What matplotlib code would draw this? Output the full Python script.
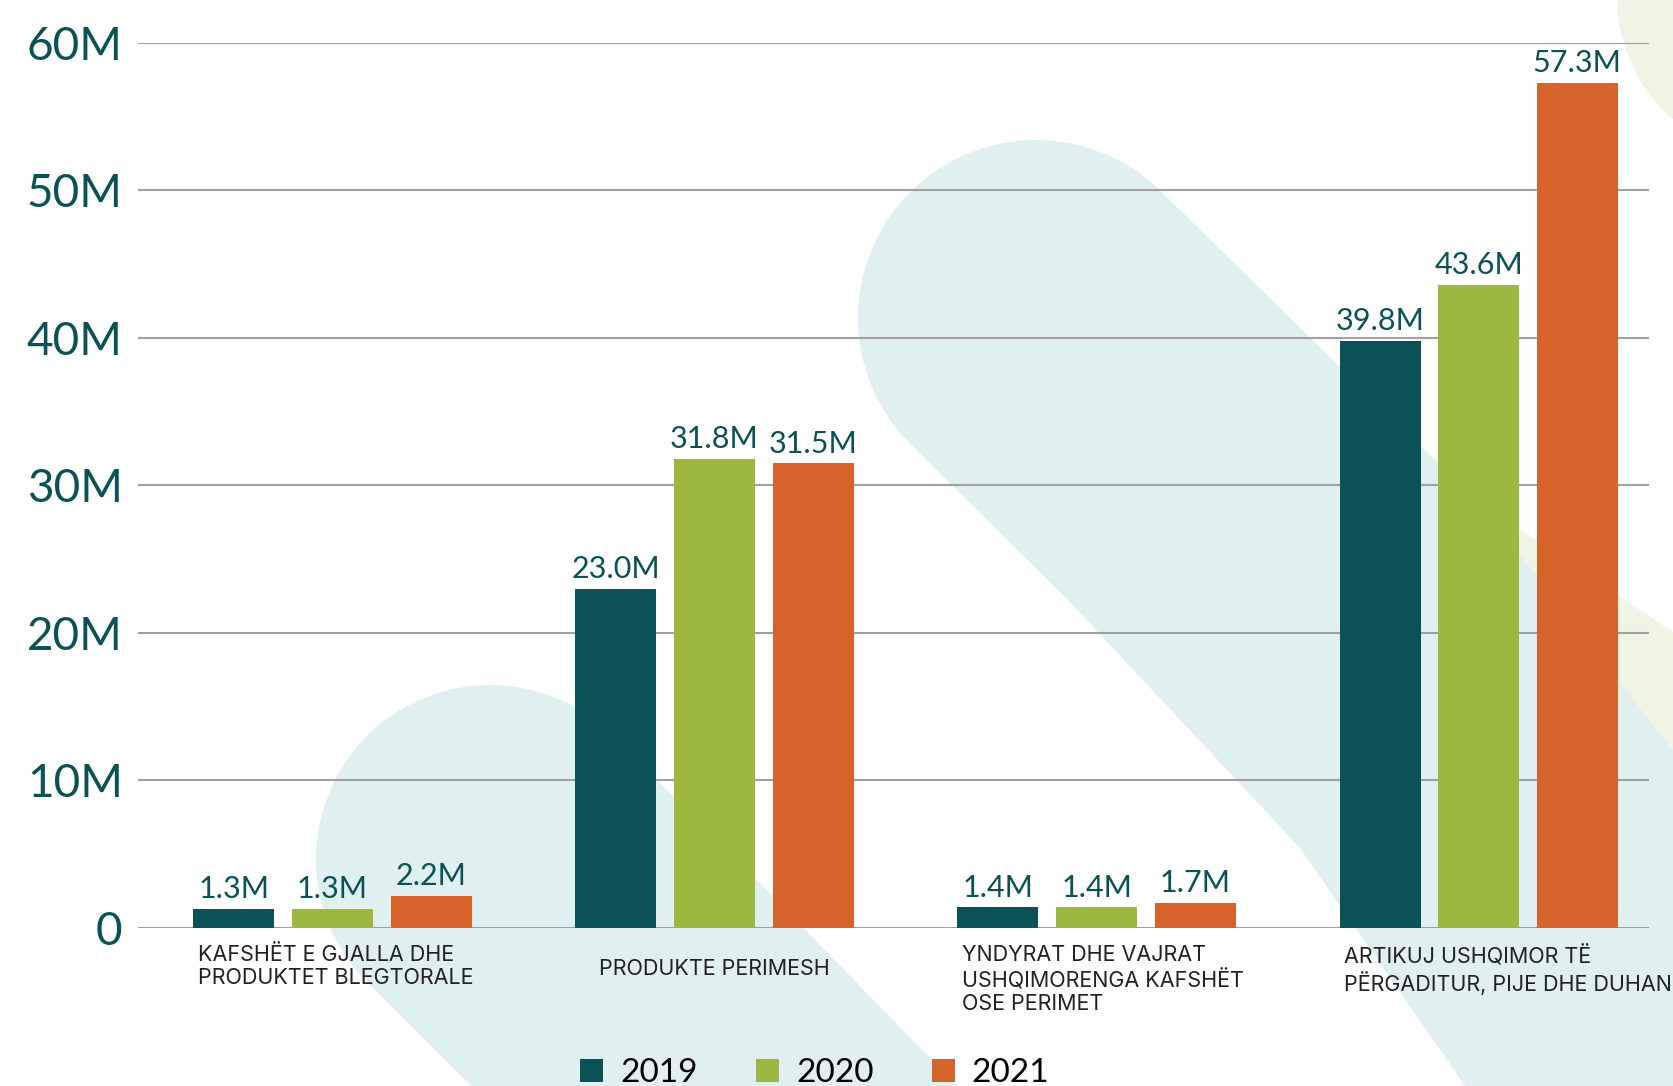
import numpy as np
import matplotlib
matplotlib.use("Agg")
import matplotlib.pyplot as plt
from matplotlib.patches import Polygon, Patch

# data
categories = [
    "KAFSHËT E GJALLA DHE\nPRODUKTET BLEGTORALE",
    "PRODUKTE PERIMESH",
    "YNDYRAT DHE VAJRAT\nUSHQIMORENGA KAFSHËT\nOSE PERIMET",
    "ARTIKUJ USHQIMOR TË\nPËRGADITUR, PIJE DHE DUHAN",
]
years = ["2019", "2020", "2021"]
v2019 = [1.3, 23.0, 1.4, 39.8]
v2020 = [1.3, 31.8, 1.4, 43.6]
v2021 = [2.2, 31.5, 1.7, 57.3]
yticks = [0, 10, 20, 30, 40, 50, 60]
ytick_labels = ["0", "10M", "20M", "30M", "40M", "50M", "60M"]

colors = ["#0a5256", "#9db840", "#d6642a"]
teal_txt = "#0a5256"
bg_teal = "#e0f0f0"
bg_green = "#eff4e4"

W, H = 1673, 1086
fig = plt.figure(figsize=(W / 100, H / 100), dpi=100)


def to_fig(pts):
    return [(x / W, 1 - y / H) for x, y in pts]


def blob(cx, cy, r, left_pts, right_pts):
    # rounded cap over the top, then two edges running down-right
    t = np.radians(np.linspace(45, 225, 60))
    arc = list(zip(cx + r * np.cos(t), cy - r * np.sin(t)))
    return arc + left_pts + right_pts


def circle(cx, cy, r):
    t = np.linspace(0, 2 * np.pi, 120)
    return list(zip(cx + r * np.cos(t), cy + r * np.sin(t)))


# background decoration
shapes = [
    (circle(1782, -4, 165), bg_green),
    ([(1480, 503), (1673, 632), (1673, 750)], bg_green),
    (blob(1036, 318, 178, [(1068, 600), (1300, 848), (1465, 1086)],
          [(1673, 1086), (1673, 750), (1480, 503), (1340, 367)]), bg_teal),
    (blob(490, 859, 174, [(471, 1086)], [(957, 1086), (760, 883)]), bg_teal),
]
for pts, c in shapes:
    fig.patches.append(Polygon(to_fig(pts), closed=True, facecolor=c,
                               edgecolor="none", transform=fig.transFigure,
                               zorder=-1))

ax = fig.add_axes([138 / W, 1 - 928 / H, (1649 - 138) / W, (928 - 42.7) / H])
ax.set_facecolor("none")

x = np.arange(len(categories))
step = 0.258
width = 0.212
series = [v2019, v2020, v2021]
for i, vals in enumerate(series):
    bars = ax.bar(x + (i - 1) * step, vals, width, color=colors[i], zorder=3)
    for b, v in zip(bars, vals):
        ax.annotate(f"{v:.1f}M", (b.get_x() + b.get_width() / 2, v),
                    xytext=(0, 4), textcoords="offset points",
                    ha="center", va="bottom", fontsize=22, color=teal_txt,
                    family="Lato", annotation_clip=False)

ax.set_xlim(-0.509, 3.446)
ax.set_ylim(0, 60)
ax.set_yticks(yticks)
ax.set_yticklabels(ytick_labels, fontsize=33, color=teal_txt, family="Lato")
ax.tick_params(axis="y", length=0, pad=11)
ax.set_xticks([])
ax.grid(axis="y", color="#a0a0a0", linewidth=1.5, zorder=1)
ax.set_axisbelow(True)
for s in ax.spines.values():
    s.set_visible(False)

for i, lab in enumerate(categories):
    if "\n" in lab:
        ax.annotate(lab, (i - 0.352, 0), xycoords=("data", "axes fraction"),
                    xytext=(0, -12), textcoords="offset points",
                    ha="left", va="top", fontsize=15.5, color="#222222",
                    family="Inter", linespacing=1.22, annotation_clip=False)
    else:
        ax.annotate(lab, (i, 0), xycoords=("data", "axes fraction"),
                    xytext=(0, -22), textcoords="offset points",
                    ha="center", va="top", fontsize=15.5, color="#222222",
                    family="Inter", annotation_clip=False)

handles = [Patch(facecolor=c) for c in colors]
fig.legend(handles, years, loc="center", bbox_to_anchor=(0.487, 0.012),
           ncol=3, frameon=False, handlelength=0.7, handleheight=0.7,
           handletextpad=0.5, columnspacing=1.75,
           prop={"family": "Lato", "size": 24})

fig.savefig("out.png", dpi=100)
